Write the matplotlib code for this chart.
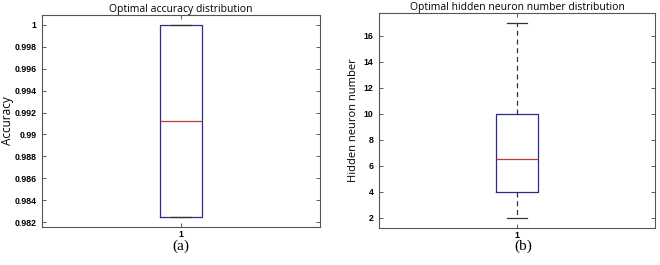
import matplotlib.pyplot as plt
from matplotlib.ticker import FixedLocator

# box statistics
acc_stats = dict(med=0.99123, q1=0.98248, q3=1.0, whislo=0.98248, whishi=1.0, fliers=[])
acc_ticks = [0.982, 0.984, 0.986, 0.988, 0.99, 0.992, 0.994, 0.996, 0.998, 1.0]
acc_labels = ['0.982', '0.984', '0.986', '0.988', '0.99', '0.992', '0.994', '0.996', '0.998', '1']

neu_stats = dict(med=6.5, q1=4, q3=10, whislo=2, whishi=17, fliers=[])
neu_ticks = [2, 4, 6, 8, 10, 12, 14, 16]

fig = plt.figure(figsize=(6.6, 2.65), dpi=100)
ax1 = fig.add_axes([42 / 660, 1 - 227 / 265, 278 / 660, 212 / 265])
ax2 = fig.add_axes([379 / 660, 1 - 228 / 265, 276 / 660, 215 / 265])

box_color = '#2b2b8c'
med_color = '#c0393b'
tick_font = dict(family='Liberation Sans', fontweight='bold', fontsize=6.3)


def draw_box(ax, stats):
    ax.bxp([stats], positions=[1], widths=0.15, showfliers=False,
           boxprops=dict(color=box_color, linewidth=0.9),
           medianprops=dict(color=med_color, linewidth=0.9),
           whiskerprops=dict(color='#333333', linewidth=0.9, linestyle=(0, (4, 3))),
           capprops=dict(color='#333333', linewidth=0.9),
           capwidths=0.075)
    ax.set_xlim(0.5, 1.5)
    ax.set_xticks([1])
    ax.set_xticklabels(['1'], **tick_font)
    ax.tick_params(direction='in', length=3, width=0.6, colors='#444444',
                   top=True, right=True, labelcolor='black')
    ax.tick_params(axis='x', pad=2)
    ax.tick_params(axis='y', pad=4)
    for s in ax.spines.values():
        s.set_color('#555555')
        s.set_linewidth(0.8)


draw_box(ax1, acc_stats)
ax1.set_ylim(0.98155, 1.0009)
ax1.yaxis.set_major_locator(FixedLocator(acc_ticks))
ax1.set_yticklabels(acc_labels, **tick_font)
ax1.set_title('Optimal accuracy distribution', fontsize=7.5, family='Open Sans', pad=2)
ax1.set_ylabel('Accuracy', fontsize=8.5, family='Open Sans')
ax1.yaxis.set_label_coords((14 - 42) / 278, 0.5)

draw_box(ax2, neu_stats)
ax2.set_ylim(1.2, 17.75)
ax2.yaxis.set_major_locator(FixedLocator(neu_ticks))
ax2.set_yticklabels([str(t) for t in neu_ticks], **tick_font)
ax2.set_title('Optimal hidden neuron number distribution', fontsize=7.5, family='Open Sans', pad=2)
ax2.set_ylabel('Hidden neuron number', fontsize=8, family='Open Sans')
ax2.yaxis.set_label_coords((359 - 379) / 276, 0.5)

fig.text(181 / 660, 1 - 246 / 265, '(a)', ha='center', va='center', fontsize=11, family='Liberation Serif')
fig.text(523 / 660, 1 - 246 / 265, '(b)', ha='center', va='center', fontsize=11, family='Liberation Serif')

plt.savefig('out.png', dpi=100)
